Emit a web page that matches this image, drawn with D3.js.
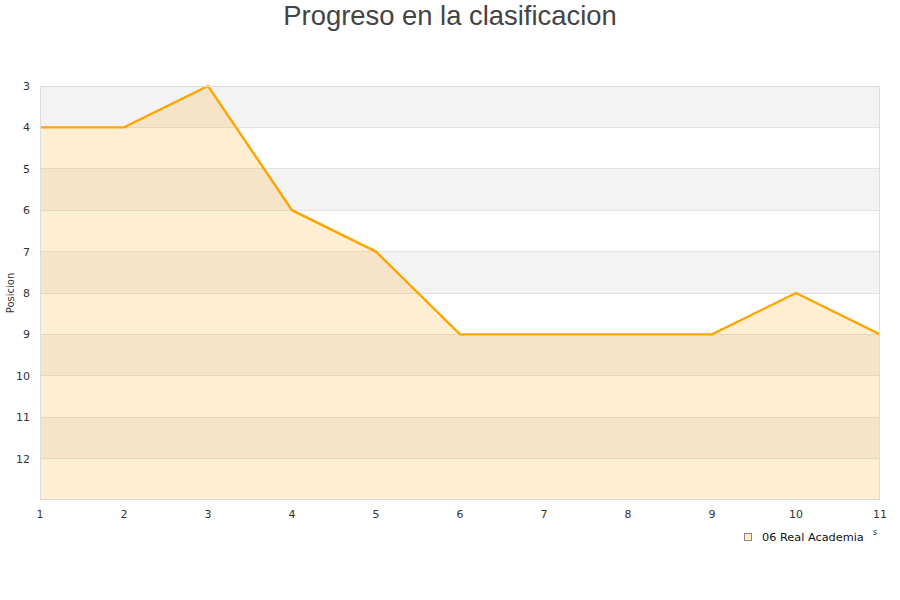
<!DOCTYPE html>
<html><head><meta charset="utf-8">
<script src="https://cdn.jsdelivr.net/npm/d3@7"></script>
<style>body{margin:0;background:#fff}svg{display:block}</style>
</head><body>
<script>
const jornadas = [1,2,3,4,5,6,7,8,9,10,11];
const posiciones = [4,4,3,6,7,9,9,9,9,8,9];
const yTicks = [3,4,5,6,7,8,9,10,11,12];
const seriesName = "06 Real Academia";
const title = "Progreso en la clasificacion";

const W=900,H=600, L=40,R=880,T=86,B=500;
const svg=d3.select("body").append("svg").attr("width",W).attr("height",H);
const x=d3.scaleLinear().domain([1,11]).range([L,R]);
const y=d3.scaleLinear().domain([3,13]).range([T,B]);

// bands
const bands=d3.range(3,13);
svg.append("g").selectAll("rect").data(bands).join("rect")
  .attr("x",L).attr("width",R-L).attr("y",d=>y(d)).attr("height",d=>y(d+1)-y(d))
  .attr("fill",d=>(d%2===1)?"#f3f3f3":"#ffffff");
// grid
svg.append("g").selectAll("line").data(d3.range(4,13)).join("line")
  .attr("x1",L).attr("x2",R).attr("y1",d=>y(d)).attr("y2",d=>y(d))
  .attr("stroke","#e2e2e2").attr("stroke-width",1).attr("shape-rendering","crispEdges");

const data=jornadas.map((j,i)=>({j,p:posiciones[i]}));
svg.append("path").datum(data)
  .attr("d",d3.area().x(d=>x(d.j)).y0(B).y1(d=>y(d.p)))
  .attr("fill","rgba(255,170,30,0.2)");
svg.append("path").datum(data)
  .attr("d",d3.line().x(d=>x(d.j)).y(d=>y(d.p)))
  .attr("fill","none").attr("stroke","#ffa500").attr("stroke-width",2.4);

// frame
svg.append("rect").attr("x",L+0.5).attr("y",T+0.5).attr("width",R-L-1).attr("height",B-T-1)
  .attr("fill","none").attr("stroke","#dcdcdc");

// axes labels
const lab="DejaVu Sans, sans-serif";
svg.append("g").selectAll("text").data(yTicks).join("text")
  .attr("x",30).attr("y",d=>y(d)+4).attr("text-anchor","end")
  .attr("font-family",lab).attr("font-size",11).attr("fill","#333").text(d=>d);
svg.append("g").selectAll("text").data(jornadas).join("text")
  .attr("x",d=>x(d)).attr("y",518).attr("text-anchor","middle")
  .attr("font-family",lab).attr("font-size",11).attr("fill","#333").text(d=>d);

svg.append("text").attr("transform","translate(14,293) rotate(-90)").attr("text-anchor","middle")
  .attr("font-family",lab).attr("font-size",10).attr("fill","#333").text("Posicion");

svg.append("text").attr("x",450).attr("y",25).attr("text-anchor","middle")
  .attr("font-family","Liberation Sans, Arial, sans-serif").attr("font-size",27.4).attr("fill","#444").text(title);

// legend
svg.append("rect").attr("x",744.5).attr("y",533.5).attr("width",7).attr("height",7)
  .attr("fill","#feecc9").attr("stroke","#888").attr("stroke-width",1);
svg.append("text").attr("x",762).attr("y",541).attr("font-family",lab).attr("font-size",11.3)
  .attr("fill","#111").text(seriesName);
svg.append("text").attr("x",873).attr("y",535).attr("font-family",lab).attr("font-size",8)
  .attr("fill","#333").text("s");
</script>
</body></html>
